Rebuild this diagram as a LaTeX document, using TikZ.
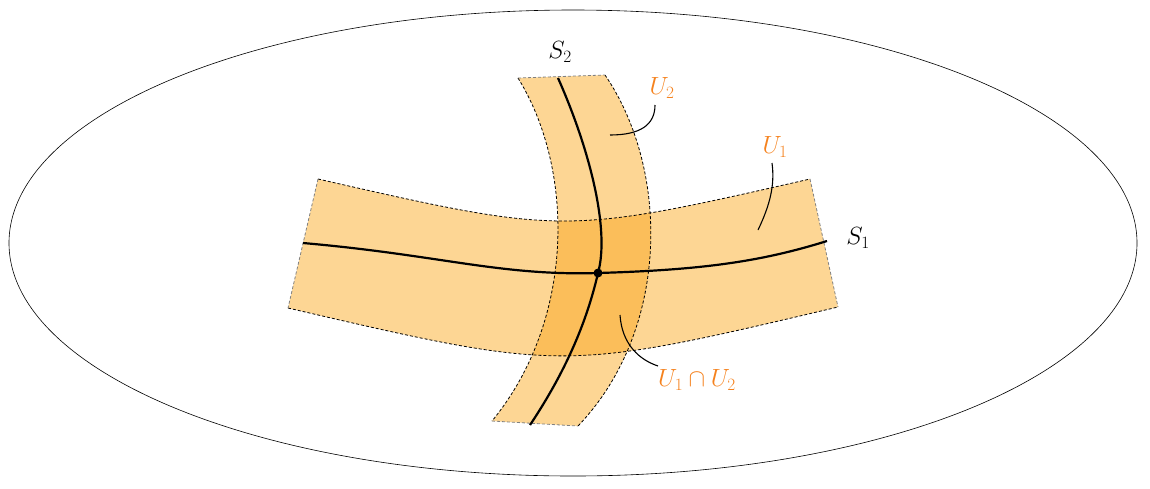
\documentclass[tikz,border=0pt]{standalone}
\usetikzlibrary{shapes.geometric}
\begin{document}
\begin{tikzpicture}[x=1pt,y=-1pt,
  lbl/.style={font=\fontsize{23}{27}\selectfont},
  olbl/.style={lbl,text={rgb,255:red,245;green,130;blue,30}},
  edge/.style={densely dashed,line width=0.8pt},
  side/.style={densely dashed,line width=0.8pt,gray},
  curve/.style={line width=2.2pt},
  ptr/.style={line width=1.1pt}]
\definecolor{lo}{RGB}{253,214,148}
\definecolor{dk}{RGB}{251,190,90}
\useasboundingbox (0,0) rectangle (1150,488);
\node[draw,ellipse,minimum width=1128pt,minimum height=466pt,inner sep=0pt,line width=0.6pt] (E) at (573,243) {};
% fills
\def\Uone{(318,179) .. controls (564,235) .. (810,179) -- (838,307) .. controls (563,372) .. (288,308) -- cycle}
\def\Utwo{(518,78) .. controls (575,170) and (575,320) .. (492,421) -- (578,426) .. controls (670,330) and (670,170) .. (605,75) -- cycle}
\fill[lo] \Uone;
\fill[lo] \Utwo;
\begin{scope}
\clip \Uone;
\fill[dk] \Utwo;
\end{scope}
% edges
\draw[edge] (318,179) .. controls (564,235) .. (810,179);
\draw[edge] (288,308) .. controls (563,372) .. (838,307);
\draw[side] (318,179) -- (288,308);
\draw[side] (810,179) -- (838,307);
\draw[edge] (518,78) .. controls (575,170) and (575,320) .. (492,421);
\draw[edge] (605,75) .. controls (670,170) and (670,330) .. (578,426);
\draw[side] (518,78) -- (605,75);
\draw[side] (492,421) -- (578,426);
% curves
\coordinate (a1) at (303,243); \coordinate (b1) at (827,241);
\coordinate (a2) at (558,78); \coordinate (b2) at (530,425);
\draw[curve] (a1) .. controls (440,255) and (500,276) .. (598,273) .. controls (700,270) and (760,262) .. (b1);
\draw[curve] (a2) .. controls (590,150) and (610,230) .. (598,273) .. controls (585,330) and (560,380) .. (b2);
\fill (598,273) circle (4.5pt);
% labels
\node[lbl] (S2) at (560,52) {$S_2$};
\node[lbl] (S1) at (858,238) {$S_1$};
\node[olbl] (U2) at (662,88) {$U_2$};
\node[olbl] (U1) at (775,147) {$U_1$};
\node[olbl] (U12) at (697,380) {$U_1\cap U_2$};
\coordinate (p2) at (610,135);
\coordinate (p1) at (758,230);
\coordinate (p12) at (620,315);
\draw[ptr] (p2) .. controls (640,135) and (655,125) .. (655,105);
\draw[ptr] (p1) .. controls (770,205) and (775,185) .. (772,163);
\draw[ptr] (p12) .. controls (622,345) and (640,360) .. (658,366);
\end{tikzpicture}
\end{document}
